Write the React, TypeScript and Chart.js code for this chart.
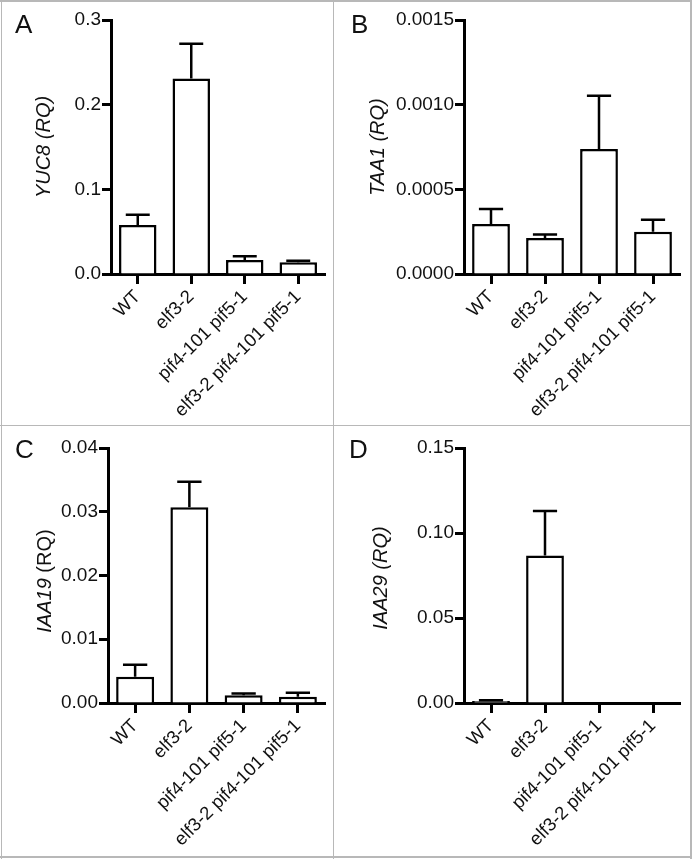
import React, { useEffect, useRef } from "react";
import { Chart, registerables } from "chart.js";

Chart.register(...registerables);

// ---------- data ----------
const categories = ["WT", "elf3-2", "pif4-101 pif5-1", "elf3-2 pif4-101 pif5-1"];

const yuc8Means = [0.058, 0.231, 0.0165, 0.014];
const yuc8Errors = [0.012, 0.041, 0.0045, 0.0017];

const taa1Means = [0.000295, 0.000213, 0.000738, 0.00025];
const taa1Errors = [0.000089, 0.000021, 0.000315, 0.000071];

const iaa19Means = [0.0041, 0.0307, 0.0012, 0.001];
const iaa19Errors = [0.0019, 0.004, 0.0003, 0.0006];

const iaa29Means = [0.0012, 0.0867, 0, 0];
const iaa29Errors = [0.0004, 0.0263, 0, 0];

const panelLetters = ["A", "B", "C", "D"];
const yMaxes = [0.3, 0.0015, 0.04, 0.15];
const ySteps = [0.1, 0.0005, 0.01, 0.05];
const yDecimals = [1, 4, 2, 2];

type Seg = { text: string; italic: boolean };
const yuc8Title: Seg[] = [{ text: "YUC8 (RQ)", italic: true }];
const taa1Title: Seg[] = [{ text: "TAA1 (RQ)", italic: true }];
const iaa19Title: Seg[] = [
  { text: "IAA19", italic: true },
  { text: " (RQ)", italic: false },
];
const iaa29Title: Seg[] = [{ text: "IAA29 (RQ)", italic: true }];

// ---------- layout (page pixels) ----------
type Layout = {
  left: number;
  top: number;
  width: number;
  height: number;
  axisX: number;
  areaTop: number;
  areaBottom: number;
  areaRight: number;
  titleX: number;
  titleY: number;
  letterX: number;
  letterY: number;
};

const layouts: Layout[] = [
  { left: 0, top: 0, width: 333, height: 426, axisX: 111, areaTop: 20, areaBottom: 274, areaRight: 325, titleX: 44, titleY: 147, letterX: 15, letterY: 33 },
  { left: 333, top: 0, width: 359, height: 426, axisX: 131, areaTop: 20, areaBottom: 274, areaRight: 347, titleX: 45, titleY: 147, letterX: 18, letterY: 33 },
  { left: 0, top: 426, width: 333, height: 433, axisX: 108, areaTop: 22, areaBottom: 277, areaRight: 325, titleX: 45, titleY: 155, letterX: 15, letterY: 32 },
  { left: 333, top: 426, width: 359, height: 433, axisX: 131, areaTop: 22, areaBottom: 277, areaRight: 347, titleX: 48, titleY: 152, letterX: 16, letterY: 32 },
];

const FONT = "'Liberation Sans', Arial, Helvetica, sans-serif";

type PanelProps = {
  means: number[];
  errors: number[];
  max: number;
  step: number;
  decimals: number;
  title: Seg[];
  letter: string;
  lay: Layout;
};

function Panel({ means, errors, max, step, decimals, title, letter, lay }: PanelProps) {
  const ref = useRef<HTMLCanvasElement | null>(null);

  useEffect(() => {
    if (!ref.current) return;

    const errorBars = {
      id: "errorBars",
      afterDatasetsDraw(chart: any) {
        const ctx = chart.ctx;
        const meta = chart.getDatasetMeta(0);
        const yScale = chart.scales.y;
        ctx.save();
        ctx.strokeStyle = "#000";
        ctx.lineWidth = 2.5;
        meta.data.forEach((bar: any, i: number) => {
          const e = errors[i];
          if (!e) return;
          const top = yScale.getPixelForValue(means[i] + e);
          const half = bar.width * 0.32;
          ctx.beginPath();
          ctx.moveTo(bar.x, bar.y);
          ctx.lineTo(bar.x, top);
          ctx.moveTo(bar.x - half, top);
          ctx.lineTo(bar.x + half, top);
          ctx.stroke();
        });
        ctx.restore();
      },
    };

    const decorations = {
      id: "decorations",
      afterDraw(chart: any) {
        const ctx = chart.ctx;
        ctx.save();
        // panel letter
        ctx.fillStyle = "#111";
        ctx.font = `26px ${FONT}`;
        ctx.textAlign = "left";
        ctx.textBaseline = "alphabetic";
        ctx.fillText(letter, lay.letterX, lay.letterY);
        // y title with mixed styles
        ctx.translate(lay.titleX, lay.titleY);
        ctx.rotate(-Math.PI / 2);
        ctx.textBaseline = "middle";
        const fonts = title.map((s) => `${s.italic ? "italic " : ""}20px ${FONT}`);
        let total = 0;
        const widths = title.map((s, i) => {
          ctx.font = fonts[i];
          const w = ctx.measureText(s.text).width;
          total += w;
          return w;
        });
        let x = -total / 2;
        title.forEach((s, i) => {
          ctx.font = fonts[i];
          ctx.fillText(s.text, x, 0);
          x += widths[i];
        });
        ctx.restore();
      },
    };

    const chart = new Chart(ref.current, {
      type: "bar",
      data: {
        labels: categories,
        datasets: [
          {
            data: means,
            backgroundColor: "#ffffff",
            borderColor: "#000000",
            borderWidth: 2.5,
            borderSkipped: "bottom",
            categoryPercentage: 1,
            barPercentage: 0.7,
          },
        ],
      },
      options: {
        animation: false,
        responsive: false,
        maintainAspectRatio: false,
        devicePixelRatio: 1,
        layout: {
          padding: { left: 0, top: lay.areaTop, right: lay.width - lay.areaRight, bottom: 0 },
        },
        plugins: {
          legend: { display: false },
          tooltip: { enabled: false },
        },
        scales: {
          x: {
            type: "category",
            offset: true,
            z: 1,
            border: { display: true, color: "#000", width: 3 },
            grid: {
              display: true,
              drawOnChartArea: false,
              offset: false,
              tickLength: 10,
              tickWidth: 3,
              tickColor: "#000",
              color: "#000",
            },
            ticks: {
              autoSkip: false,
              maxRotation: 45,
              minRotation: 45,
              padding: 2,
              color: "#111",
              font: { family: FONT, size: 18.5 },
            },
            afterFit: (s: any) => {
              s.height = lay.height - lay.areaBottom;
            },
          },
          y: {
            min: 0,
            max: max,
            z: 1,
            border: { display: true, color: "#000", width: 3 },
            grid: {
              display: true,
              drawOnChartArea: false,
              tickLength: 9,
              tickWidth: 3,
              tickColor: "#000",
              color: "#000",
            },
            ticks: {
              stepSize: step,
              padding: 1,
              color: "#111",
              font: { family: FONT, size: 19 },
              callback: (v: any) => Number(v).toFixed(decimals),
            },
            afterFit: (s: any) => {
              s.width = lay.axisX;
            },
          },
        },
      },
      plugins: [errorBars, decorations],
    } as any);

    return () => chart.destroy();
  }, []);

  return (
    <canvas
      ref={ref}
      width={lay.width}
      height={lay.height}
      style={{
        position: "absolute",
        left: lay.left,
        top: lay.top,
        width: lay.width,
        height: lay.height,
        display: "block",
      }}
    />
  );
}

const lineColor = "#b8b8b8";

export default function App() {
  const panels = [
    { means: yuc8Means, errors: yuc8Errors, title: yuc8Title },
    { means: taa1Means, errors: taa1Errors, title: taa1Title },
    { means: iaa19Means, errors: iaa19Errors, title: iaa19Title },
    { means: iaa29Means, errors: iaa29Errors, title: iaa29Title },
  ];
  const line = (l: number, t: number, w: number, h: number) => (
    <div
      style={{ position: "absolute", left: l, top: t, width: w, height: h, background: lineColor }}
    />
  );
  return (
    <div
      style={{
        position: "absolute",
        left: 0,
        top: 0,
        width: 692,
        height: 859,
        background: "#fff",
        overflow: "hidden",
      }}
    >
      {panels.map((p, i) => (
        <Panel
          key={i}
          means={p.means}
          errors={p.errors}
          max={yMaxes[i]}
          step={ySteps[i]}
          decimals={yDecimals[i]}
          title={p.title}
          letter={panelLetters[i]}
          lay={layouts[i]}
        />
      ))}
      {line(0, 0, 692, 2)}
      {line(1, 0, 1, 859)}
      {line(690, 0, 2, 859)}
      {line(0, 856, 692, 2)}
      {line(333, 0, 1, 859)}
      {line(0, 425, 692, 1)}
    </div>
  );
}
